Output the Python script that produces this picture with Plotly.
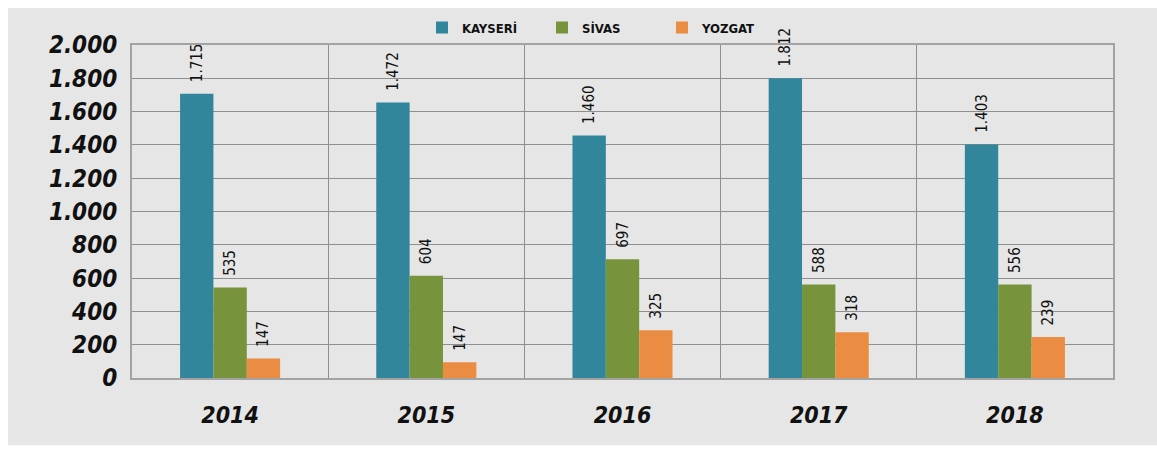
import plotly.graph_objects as go

years = ["2014", "2015", "2016", "2017", "2018"]
series_names = ["KAYSERİ", "SİVAS", "YOZGAT"]
# bar heights as drawn in the picture
kayseri_bars = [1707, 1655, 1456, 1801, 1403]
sivas_bars = [544, 614, 713, 561, 561]
yozgat_bars = [117, 94, 287, 275, 246]
# value labels printed above the bars
kayseri_labels = ["1.715", "1.472", "1.460", "1.812", "1.403"]
sivas_labels = ["535", "604", "697", "588", "556"]
yozgat_labels = ["147", "147", "325", "318", "239"]
y_ticks = [0, 200, 400, 600, 800, 1000, 1200, 1400, 1600, 1800, 2000]

colors = ["#31869b", "#77933c", "#ea8c42"]

FONT = "DejaVu Sans Condensed, sans-serif"

fig = go.Figure()
for name, vals, labs, col in zip(series_names,
                                 [kayseri_bars, sivas_bars, yozgat_bars],
                                 [kayseri_labels, sivas_labels, yozgat_labels],
                                 colors):
    fig.add_trace(go.Bar(
        x=years, y=vals, name=name,
        marker=dict(color=col, line=dict(width=0)),
        text=["\u00a0\u00a0" + t for t in labs],
        textposition="outside", textangle=-90,
        constraintext="none", cliponaxis=False,
        textfont=dict(family=FONT, size=15, color="#111111"),
        hoverinfo="skip",
    ))

W, H = 1157, 450
ml, mr, mt, mb = 132, 44, 36, 72
pw, ph = W - ml - mr, H - mt - mb

# gray backdrop panel (in paper coords relative to plot area)
x0 = (8 - ml) / pw
x1 = (W + 2 - ml) / pw
y0 = 1 - (447 - mt) / ph
y1 = 1 + (mt + 2) / ph
fig.add_shape(type="rect", xref="paper", yref="paper", x0=x0, x1=x1, y0=y0, y1=y1,
              fillcolor="#e6e6e6", line=dict(width=0), layer="below")

fig.update_layout(
    width=W, height=H,
    margin=dict(l=ml, r=mr, t=mt, b=mb),
    paper_bgcolor="white", plot_bgcolor="rgba(0,0,0,0)",
    barmode="group", bargap=0.49, bargroupgap=0,
    separators=",.",
    showlegend=True,
    legend=dict(orientation="h", x=(422 - ml) / pw, xanchor="left", y=1 + 18 / ph, yanchor="middle",
                font=dict(family=FONT, size=13, color="#111111", weight="bold"),
                bgcolor="rgba(0,0,0,0)", entrywidth=75, traceorder="normal",
                itemwidth=30),
    font=dict(family=FONT),
)
fig.update_xaxes(
    type="category", tickson="boundaries", showgrid=True, gridcolor="#8f8f8f", gridwidth=1.3,
    showline=True, linecolor="#a3a3a3", linewidth=2, mirror=True,
    ticks="", ticklabelstandoff=15,
    tickfont=dict(family=FONT, size=23, color="#111111", style="italic", weight="bold"),
)
fig.update_yaxes(
    range=[0, 2000], tickvals=y_ticks, tickformat=",d",
    showgrid=True, gridcolor="#8f8f8f", gridwidth=1.3,
    showline=True, linecolor="#a3a3a3", linewidth=2, mirror=True,
    zeroline=False, ticks="", ticklabelstandoff=8,
    tickfont=dict(family=FONT, size=24, color="#111111", style="italic", weight="bold"),
)

fig.write_html("out.html", config={"displayModeBar": False},
               post_script="document.body.style.margin='0';")
